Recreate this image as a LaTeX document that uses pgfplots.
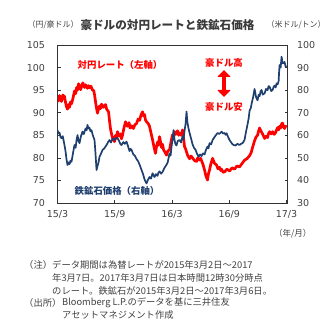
\documentclass[border=0pt]{standalone}
\usepackage{fontspec}
\usepackage{pgfplots}
\usepackage{pgfplotstable}
\pgfplotsset{compat=1.18}
\usetikzlibrary{arrows.meta}
\setmainfont{Noto Sans CJK JP}
\newfontfamily\numfont{DejaVu Sans}
\definecolor{txt}{HTML}{404040}
\definecolor{ore}{HTML}{1F3F6E}
\definecolor{fx}{HTML}{FF0000}

% AUD/JPY (left axis), x = months since 2015/3
\pgfplotstableread{
m v
0.00 93.2
0.10 92.6
0.21 93.8
0.31 93.0
0.42 92.5
0.55 93.9
0.73 93.6
0.85 92.2
0.95 91.3
1.05 90.8
1.15 91.8
1.26 91.2
1.36 92.4
1.47 92.0
1.60 93.0
1.78 94.8
1.90 94.2
2.00 95.6
2.10 95.0
2.20 96.4
2.31 96.0
2.42 95.1
2.52 95.8
2.65 96.6
2.83 95.6
2.95 96.2
3.14 95.4
3.25 96.0
3.35 95.5
3.50 95.9
3.67 95.0
3.80 94.9
3.88 94.0
4.00 92.2
4.09 91.0
4.19 89.9
4.30 90.8
4.40 91.5
4.50 90.9
4.61 91.9
4.80 91.2
5.03 91.8
5.15 90.8
5.35 90.2
5.45 88.2
5.55 86.5
5.66 85.3
5.80 84.2
5.97 83.6
6.08 85.0
6.18 84.3
6.29 85.8
6.45 84.8
6.60 85.3
6.70 84.2
6.81 85.0
6.95 86.5
7.13 88.0
7.23 87.2
7.34 87.0
7.50 87.8
7.60 86.6
7.76 87.1
7.95 86.5
8.10 87.3
8.28 87.6
8.45 88.6
8.60 88.3
8.75 89.5
8.91 90.2
9.00 89.3
9.12 89.6
9.22 88.4
9.33 88.0
9.50 87.6
9.64 87.0
9.80 85.5
9.96 84.0
10.10 82.5
10.27 81.0
10.38 82.6
10.48 83.5
10.58 82.8
10.69 84.7
10.80 83.5
10.90 82.3
11.01 83.0
11.11 81.8
11.25 81.3
11.43 80.6
11.55 81.5
11.74 81.8
11.90 83.6
12.05 85.1
12.16 84.6
12.26 85.8
12.40 85.2
12.58 86.0
12.70 85.0
12.79 85.5
12.95 85.0
13.10 86.2
13.20 84.5
13.31 82.5
13.42 82.0
13.52 81.3
13.65 80.5
13.84 79.8
14.00 80.4
14.15 80.0
14.35 79.4
14.57 79.2
14.70 80.0
14.88 79.5
15.00 79.9
15.09 79.4
15.25 78.5
15.41 77.3
15.55 76.0
15.72 75.1
15.82 76.5
15.93 77.3
16.05 78.5
16.25 79.9
16.45 78.8
16.67 78.4
16.80 77.6
16.98 77.9
17.10 77.2
17.19 77.5
17.35 76.8
17.51 76.9
17.75 77.5
18.03 77.1
18.30 77.8
18.55 77.5
18.80 78.2
19.08 78.0
19.35 78.8
19.60 79.5
19.85 79.8
20.13 80.5
20.30 81.2
20.44 82.3
20.55 83.1
20.65 83.8
20.80 84.6
20.96 85.0
21.08 86.0
21.17 86.6
21.30 86.0
21.49 85.3
21.60 84.8
21.70 84.3
21.85 84.8
22.01 84.5
22.12 85.4
22.22 85.8
22.40 85.3
22.54 85.8
22.70 85.2
22.85 85.6
22.96 86.2
23.06 86.7
23.17 86.2
23.27 87.0
23.40 86.6
23.48 87.5
23.58 87.7
23.70 86.9
23.79 86.5
23.90 87.0
24.00 86.8
}\fxdata

% Iron ore (right axis)
\pgfplotstableread{
m v
0.00 62.3
0.10 60.8
0.21 61.2
0.31 59.3
0.42 58.7
0.55 59.6
0.73 55.7
0.84 53.0
0.94 49.5
1.05 46.8
1.15 48.0
1.26 47.2
1.36 48.8
1.47 48.3
1.60 51.5
1.78 55.7
1.90 54.5
2.00 58.0
2.10 60.1
2.20 57.5
2.31 56.5
2.45 59.5
2.62 61.6
2.75 60.5
2.94 63.0
3.05 62.2
3.14 64.6
3.25 63.0
3.35 63.4
3.45 61.8
3.56 62.3
3.70 60.0
3.88 57.9
3.98 52.0
4.09 44.6
4.20 46.5
4.30 48.0
4.40 50.5
4.55 51.8
4.72 53.5
4.90 54.2
5.14 55.7
5.30 57.0
5.45 57.9
5.60 56.8
5.77 58.5
5.97 57.9
6.10 58.8
6.29 58.7
6.45 57.5
6.60 56.0
6.71 55.7
6.90 57.0
7.05 56.2
7.23 57.2
7.40 55.0
7.55 53.0
7.65 54.0
7.76 53.5
7.95 51.5
8.10 51.0
8.28 49.5
8.45 48.5
8.60 47.0
8.81 44.6
8.95 43.0
9.12 40.5
9.22 39.5
9.33 38.7
9.45 40.0
9.64 41.5
9.80 40.8
9.96 43.2
10.05 42.3
10.17 41.5
10.30 42.8
10.48 42.0
10.58 43.5
10.69 44.0
10.85 43.0
11.01 43.8
11.20 45.5
11.43 47.0
11.55 48.0
11.74 52.0
11.85 51.0
11.95 55.0
12.05 58.0
12.16 62.3
12.26 58.0
12.36 56.0
12.47 55.5
12.60 57.5
12.79 57.9
12.95 56.8
13.10 59.5
13.20 58.0
13.31 62.0
13.42 65.0
13.52 70.5
13.60 66.0
13.73 63.0
13.84 61.0
14.00 58.5
14.15 56.0
14.30 54.5
14.47 53.5
14.60 52.0
14.78 50.5
14.95 51.5
15.09 50.8
15.25 52.0
15.41 51.5
15.55 53.5
15.72 55.0
15.82 54.2
15.93 56.5
16.10 56.0
16.25 57.9
16.50 59.5
16.77 61.0
16.95 60.6
17.19 61.6
17.35 60.8
17.51 61.0
17.62 60.2
17.72 60.9
17.90 59.0
18.03 57.9
18.20 56.8
18.34 56.0
18.50 55.6
18.66 55.5
18.85 56.2
19.08 55.7
19.25 56.3
19.39 56.5
19.50 57.2
19.60 58.0
19.75 61.5
19.92 65.0
20.03 67.5
20.13 71.0
20.25 72.0
20.34 74.0
20.50 77.0
20.65 80.5
20.80 77.0
20.96 75.5
21.08 78.0
21.17 77.3
21.28 79.5
21.38 80.1
21.50 78.0
21.70 78.6
21.85 80.5
22.01 80.0
22.12 81.8
22.22 81.5
22.40 79.6
22.54 80.1
22.65 81.5
22.75 82.0
22.85 81.2
22.96 83.0
23.06 82.5
23.17 84.0
23.22 88.0
23.27 91.1
23.38 90.0
23.48 94.8
23.58 92.0
23.69 91.9
23.79 92.5
23.90 90.5
24.00 90.8
}\oredata

\begin{document}
\begin{tikzpicture}[x=1pt,y=1pt]
\useasboundingbox (0,0) rectangle (331,326);
\pgfplotsset{
  every axis/.append style={
    scale only axis, width=230pt, height=158pt,
    at={(57.5pt,123pt)}, anchor=south west,
    xmin=0, xmax=24.1,
    tick align=inside, major tick length=3pt,
    axis line style={black!80, line width=0.6pt},
    tick style={black!80, line width=0.6pt},
    tick label style={font=\numfont\fontsize{9.5}{10}\selectfont, text=txt},
    /pgf/number format/assume math mode=true,
  }
}
\begin{axis}[
  ymin=70, ymax=105, ytick={70,75,...,105},
  ytick pos=left, xtick pos=bottom,
  xtick={0,6,12,18,24},
  xticklabels={15/3,15/9,16/3,16/9,17/3},
  yticklabel style={xshift=-9pt},
  xticklabel style={yshift=-4pt},
]
\addplot[fx, line width=2.7pt, line join=round] table[x=m,y=v]{\fxdata};
\end{axis}
\begin{axis}[
  ymin=30, ymax=100, ytick={30,40,...,100},
  axis y line*=right, axis x line=none,
  yticklabel style={xshift=6pt},
]
\addplot[ore, line width=1.7pt, line join=round] table[x=m,y=v]{\oredata};
\end{axis}

% titles
\node[anchor=west, text=txt, font=\fontsize{8}{9}\selectfont] at (24,301) {（円/豪ドル）};
\node[anchor=west, text=txt!90!black, font=\bfseries\fontsize{11.6}{13}\selectfont] at (77,301) {豪ドルの対円レートと鉄鉱石価格};
\node[anchor=west, text=txt, font=\fontsize{8}{9}\selectfont] at (263,301) {（米ドル/トン）};

% annotations
\node[text=fx, font=\bfseries\fontsize{9.4}{10}\selectfont] at (120,261) {対円レート（左軸）};
\node[text=ore, font=\bfseries\fontsize{9.4}{10}\selectfont] at (117,135) {鉄鉱石価格（右軸）};
\node[text=fx, font=\bfseries\fontsize{9.4}{10}\selectfont] at (224,263) {豪ドル高};
\node[text=fx, font=\bfseries\fontsize{9.4}{10}\selectfont] at (224,219) {豪ドル安};
\draw[fx, line width=4pt, {Triangle[width=13pt,length=7pt]}-{Triangle[width=13pt,length=7pt]}] (224,256) -- (224,229);

% year/month
\node[anchor=east, text=txt, font=\fontsize{8.5}{9}\selectfont] at (315,92) {（年/月）};

% notes
\begin{scope}[every node/.style={anchor=west, text=txt, font=\fontsize{9.3}{10}\selectfont, inner sep=0pt}]
\node at (24,61) {（注）};
\node at (52,61) {データ期間は為替レートが2015年3月2日～2017};
\node at (52,48) {年3月7日。2017年3月7日は日本時間12時30分時点};
\node at (52,35) {のレート。鉄鉱石が2015年3月2日～2017年3月6日。};
\node at (24,23) {（出所）};
\node at (62,23) {Bloomberg L.P.のデータを基に三井住友};
\node at (62,11) {アセットマネジメント作成};
\end{scope}
\end{tikzpicture}
\end{document}
